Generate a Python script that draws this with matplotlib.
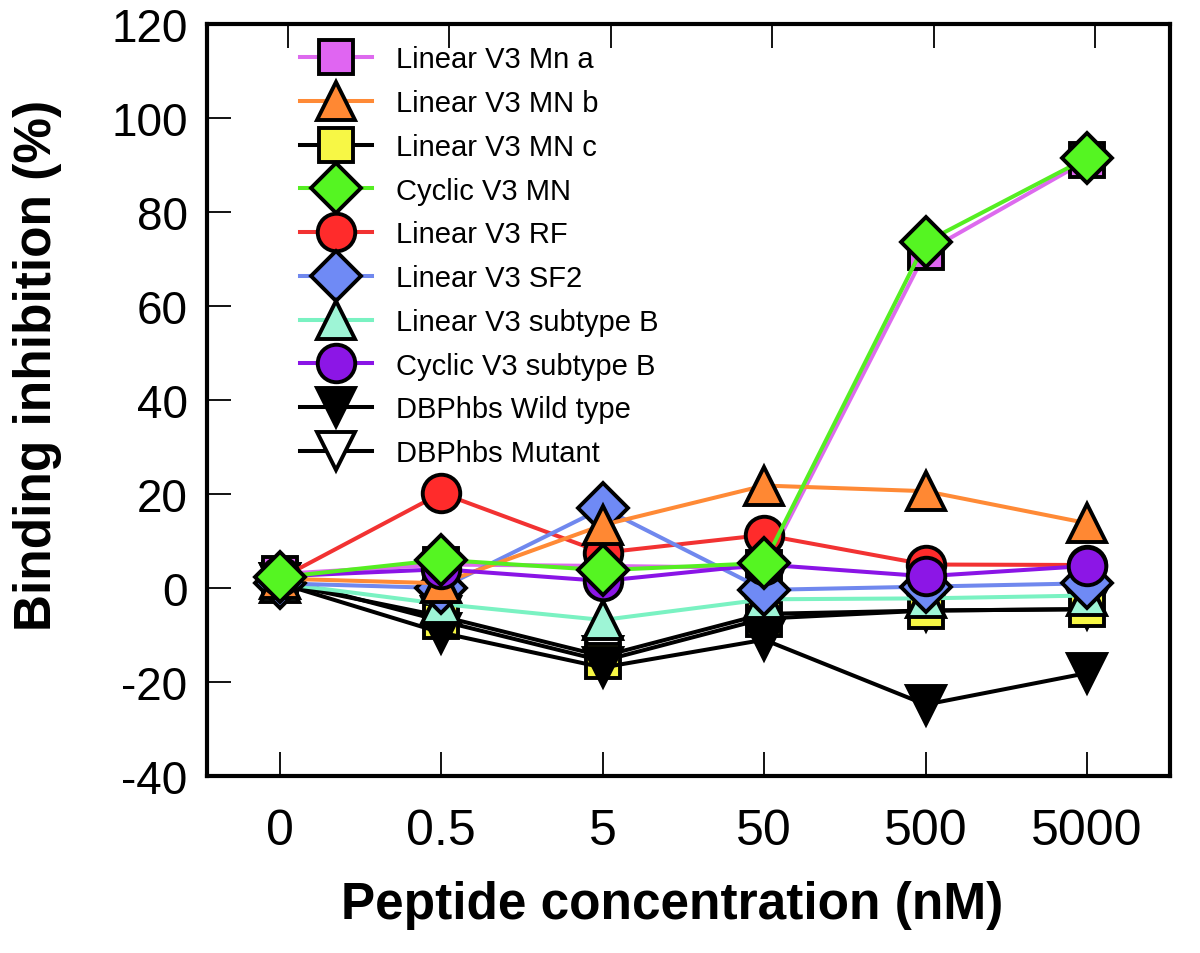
import numpy as np
import matplotlib
matplotlib.use("Agg")
import matplotlib.pyplot as plt

# ─────────────────────────────────────────────
# DATA  (binding inhibition, %)
# ─────────────────────────────────────────────
conc_labels = ["0", "0.5", "5", "50", "500", "5000"]

linear_mn_a    = [3.0, 5.0, 4.7, 4.3, 71.5, 91.0]
linear_mn_b    = [2.0, 1.0, 13.4, 21.8, 20.6, 13.8]
linear_mn_c    = [2.0, -7.0, -15.5, -6.5, -4.8, -4.5]
cyclic_mn      = [2.3, 6.0, 3.8, 5.3, 73.6, 91.5]
linear_rf      = [2.0, 20.2, 7.5, 11.3, 5.0, 4.9]
linear_sf2     = [1.0, 0.0, 17.0, -0.4, 0.3, 1.0]
linear_sub_b   = [1.0, -3.4, -6.8, -2.4, -2.2, -1.6]
cyclic_sub_b   = [2.5, 4.0, 1.5, 5.0, 2.5, 4.7]
dbphbs_wt      = [1.0, -9.5, -16.9, -11.0, -24.8, -18.1]
dbphbs_mutant  = [1.0, -6.0, -14.5, -5.5, -4.8, -4.5]

# ─────────────────────────────────────────────
# STYLE  (label, data, line colour, face colour, marker, size, zorder)
# ─────────────────────────────────────────────
SERIES = [
    ("Linear V3 Mn a",       linear_mn_a,   "#dd6aee", "#e065f2", "s", 25, 5),
    ("Linear V3 MN b",       linear_mn_b,   "#ff8a36", "#ff8833", "^", 28, 8),
    ("Linear V3 MN c",       linear_mn_c,   "black",   "#f7f745", "s", 25, 2),
    ("Cyclic V3 MN",         cyclic_mn,     "#55ee22", "#55f522", "D", 25, 10),
    ("Linear V3 RF",         linear_rf,     "#f23232", "#ff2b2b", "o", 27, 6),
    ("Linear V3 SF2",        linear_sf2,    "#7088ee", "#6f8af5", "D", 25, 7),
    ("Linear V3 subtype B",  linear_sub_b,  "#7af2c2", "#9ef5d6", "^", 28, 4),
    ("Cyclic V3 subtype B",  cyclic_sub_b,  "#8a14e6", "#8c16e6", "o", 27, 9),
    ("DBPhbs Wild type",     dbphbs_wt,     "black",   "black",   "v", 28, 3),
    ("DBPhbs Mutant",        dbphbs_mutant, "black",   "white",   "v", 28, 1),
]

plt.rcParams["font.family"] = ["Liberation Sans", "DejaVu Sans"]
plt.rcParams["axes.unicode_minus"] = False

fig, ax = plt.subplots(figsize=(12, 9.54), dpi=100)
fig.subplots_adjust(left=0.1725, right=0.975, bottom=0.1855, top=0.9738)

x = np.arange(len(conc_labels))
for label, vals, lc, fc, mk, ms, z in SERIES:
    ax.plot(x, vals, color=lc, linewidth=2.9, marker=mk, markersize=ms,
            markerfacecolor=fc, markeredgecolor="black", markeredgewidth=2.8,
            label=label, zorder=z, clip_on=False)

ax.set_xlim(-0.452, 5.514)
ax.set_ylim(-40, 120)
ax.set_xticks(x)
ax.set_xticklabels(conc_labels)
ax.set_yticks(np.arange(-40, 121, 20))

ax.tick_params(direction="in", length=17, width=1.3, top=False, right=False)
ax.tick_params(axis="x", labelsize=36, pad=23)
ax.tick_params(axis="y", labelsize=33, pad=14)
for sp in ax.spines.values():
    sp.set_linewidth(3)

# top ticks (sit slightly to the right in the original)
top = ax.twiny()
top.set_xlim(ax.get_xlim())
top.set_xticks(x + 0.05)
top.tick_params(direction="in", length=17, width=1.3, labeltop=False)
for sp in top.spines.values():
    sp.set_visible(False)

ax.set_xlabel("Peptide concentration (nM)", fontsize=37, fontweight="bold",
              labelpad=19)
ax.set_ylabel("Binding inhibition (%)", fontsize=37, fontweight="bold",
              labelpad=35)
ax.xaxis.label.set_x(0.483)
ax.yaxis.label.set_y(0.547)

ax.legend(loc="upper left", bbox_to_anchor=(0.084, 0.987), frameon=False,
          fontsize=21, handlelength=2.47, handletextpad=0.82,
          labelspacing=0.54, borderaxespad=0)

plt.savefig("out.png", dpi=100)
